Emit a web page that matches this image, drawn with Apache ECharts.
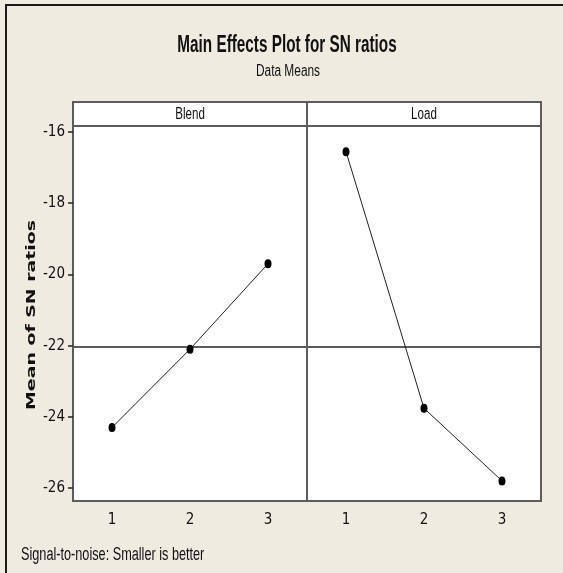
<!DOCTYPE html>
<html><head><meta charset="utf-8">
<script src="https://cdn.jsdelivr.net/npm/echarts@6/dist/echarts.min.js"></script>
<style>html,body{margin:0;padding:0;background:#efebe1}#c{width:563px;height:573px}</style>
</head><body><div id="c"></div><script>
// ---- data ----
const factors = ['Blend', 'Load'];
const levels = ['1', '2', '3'];
const blendMeans = [-24.30, -22.10, -19.70];
const loadMeans = [-16.55, -23.76, -25.80];
const yTicks = [-26, -24, -22, -20, -18, -16];
const grandMean = [-22.02];
const titleText = 'Main Effects Plot for SN ratios';
const subtitleText = 'Data Means';
const yAxisTitle = 'Mean of SN ratios';
const footnote = 'Signal-to-noise: Smaller is better';

// ---- layout / style ----
const BG = '#efebe1';
const AX = '#5c5c5c';
const TXT = '#111';
const NARROW = "'Liberation Sans Narrow','DejaVu Sans Condensed','Liberation Sans',sans-serif";
const SANS = "'Liberation Sans',Arial,sans-serif";
const G = {top: 126, height: 375, left0: 73, width: 234};
const Y_MIN = -26.365, Y_MAX = -15.83;

function txt(text, x, y, fs, weight, sx, sy, align, rot, family) {
  return {type: 'text', x: x, y: y, scaleX: sx, scaleY: sy, rotation: rot || 0, z: 20,
    style: {text: text, fontSize: fs, fontWeight: weight, fontFamily: family || SANS,
      fill: TXT, align: align, verticalAlign: 'middle'}};
}

const grids = factors.map((f, i) => ({
  left: G.left0 + i * G.width, top: G.top, width: G.width, height: G.height,
  show: true, backgroundColor: '#fff', borderColor: AX, borderWidth: 2
}));

const xAxes = factors.map((f, i) => ({
  gridIndex: i, type: 'category', data: levels,
  axisLine: {lineStyle: {color: AX, width: 2}},
  axisTick: {alignWithLabel: true, length: 5, lineStyle: {color: '#222', width: 1.5}},
  axisLabel: {fontSize: 15, fontFamily: NARROW, color: TXT, margin: 12},
  splitLine: {show: false}
}));

const yAxes = factors.map((f, i) => ({
  gridIndex: i, type: 'value', min: Y_MIN, max: Y_MAX,
  splitLine: {show: false},
  axisLine: {show: true, lineStyle: {color: AX, width: 2}},
  axisTick: {show: i === 0, length: 5, customValues: yTicks, lineStyle: {color: '#222', width: 1.5}},
  axisLabel: {show: i === 0, customValues: yTicks, fontSize: 15, fontFamily: NARROW, color: TXT, margin: 8}
}));

const seriesData = [blendMeans, loadMeans];
const series = factors.map((f, i) => ({
  type: 'line', name: f, xAxisIndex: i, yAxisIndex: i, data: seriesData[i],
  symbol: 'circle', symbolSize: [7, 9], z: 5,
  itemStyle: {color: '#000'},
  lineStyle: {color: '#222', width: 1},
  emphasis: {disabled: true},
  markLine: {silent: true, symbol: 'none', label: {show: false}, z: 3,
    lineStyle: {color: AX, width: 2, type: 'solid'},
    data: grandMean.map(v => ({yAxis: v}))}
}));

const graphics = [
  // outer frame
  {type: 'polyline', z: 1, shape: {points: [[6, 573], [6, 5], [563, 5]]}, style: {stroke: '#1a1a1a', lineWidth: 2, fill: null}},
  // strip header
  {type: 'rect', z: 10, shape: {x: G.left0, y: 102, width: G.width * 2, height: G.top - 102},
    style: {fill: '#fff', stroke: AX, lineWidth: 2}},
  {type: 'line', z: 11, shape: {x1: G.left0 + G.width, y1: 102, x2: G.left0 + G.width, y2: G.top},
    style: {stroke: AX, lineWidth: 2}},
  txt(titleText, 287, 45.5, 15.3, 'bold', 1, 1.55, 'center'),
  txt(subtitleText, 288, 71.5, 11.9, 'normal', 1, 1.45, 'center'),
  txt(yAxisTitle, 32, 315, 12.2, 'bold', 1.55, 1, 'center', Math.PI / 2, "'DejaVu Sans',Verdana,sans-serif"),
  txt(footnote, 21, 555, 12.7, 'normal', 1, 1.42, 'left')
];
factors.forEach((f, i) => {
  graphics.push(txt(f, G.left0 + G.width * (i + 0.5), 114, 11.6, 'normal', 1, 1.5, 'center'));
});

const chart = echarts.init(document.getElementById('c'), null, {renderer: 'canvas'});
chart.setOption({
  backgroundColor: BG,
  animation: false,
  tooltip: {show: false},
  grid: grids,
  xAxis: xAxes,
  yAxis: yAxes,
  series: series,
  graphic: graphics
});
</script></body></html>
